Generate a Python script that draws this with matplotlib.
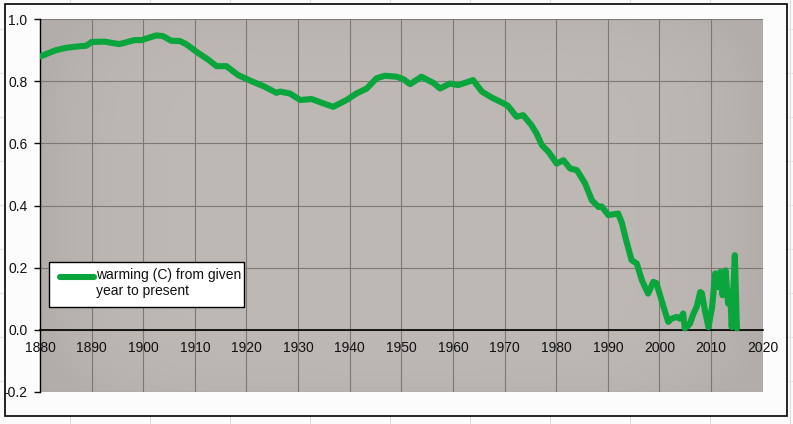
import matplotlib
matplotlib.use("Agg")
import matplotlib.pyplot as plt
import numpy as np
from matplotlib.patches import Rectangle
from matplotlib.lines import Line2D

plt.rcParams['font.family'] = ['Liberation Sans', 'DejaVu Sans']

years = [1880.0, 1881.5, 1883.0, 1885.0, 1887.0, 1889.0, 1890.0, 1892.5, 1895.4, 1898.3,
         1899.6, 1901.0, 1902.5, 1903.8, 1905.4, 1907.1, 1908.3, 1910.6, 1912.5, 1914.2,
         1916.1, 1918.4, 1920.9, 1923.5, 1925.8, 1926.5, 1928.4, 1930.4, 1932.6, 1934.9,
         1936.8, 1939.4, 1941.3, 1943.3, 1945.2, 1946.8, 1949.1, 1950.4, 1951.7, 1953.9,
         1956.2, 1957.5, 1959.4, 1961.0, 1962.3, 1963.9, 1965.6, 1967.5, 1969.8, 1970.6,
         1972.3, 1973.6, 1975.2, 1976.2, 1977.2, 1978.5, 1980.1, 1981.4, 1982.7, 1984.0,
         1985.6, 1986.9, 1988.2, 1988.8, 1990.1, 1992.0, 1992.7, 1993.6, 1994.6, 1995.6,
         1996.6, 1997.8, 1998.8, 1999.4, 2000.4, 2001.0, 2001.7, 2002.3, 2003.3, 2004.0,
         2004.6, 2004.9, 2005.4, 2005.9, 2006.6, 2007.2, 2007.9, 2008.2, 2008.8, 2009.5,
         2010.2, 2010.8, 2011.3, 2011.8, 2012.2, 2012.8, 2013.3, 2013.7, 2014.0, 2014.6,
         2015.0]
warming = [0.880, 0.890, 0.900, 0.908, 0.912, 0.915, 0.927, 0.928, 0.920, 0.933,
           0.933, 0.940, 0.948, 0.946, 0.931, 0.930, 0.920, 0.892, 0.871, 0.849,
           0.849, 0.820, 0.801, 0.783, 0.763, 0.767, 0.761, 0.740, 0.743, 0.729,
           0.718, 0.740, 0.761, 0.777, 0.810, 0.818, 0.815, 0.807, 0.791, 0.815,
           0.795, 0.777, 0.793, 0.788, 0.795, 0.804, 0.767, 0.748, 0.729, 0.722,
           0.686, 0.691, 0.659, 0.632, 0.595, 0.573, 0.535, 0.546, 0.519, 0.514,
           0.471, 0.417, 0.395, 0.397, 0.369, 0.374, 0.345, 0.285, 0.224, 0.213,
           0.159, 0.116, 0.154, 0.150, 0.095, 0.062, 0.025, 0.035, 0.041, 0.035,
           0.052, 0.004, 0.010, 0.019, 0.052, 0.073, 0.121, 0.118, 0.062, 0.008,
           0.073, 0.181, 0.137, 0.186, 0.111, 0.191, 0.084, 0.120, 0.008, 0.240,
           0.004]
x_ticks = [1880, 1890, 1900, 1910, 1920, 1930, 1940, 1950, 1960, 1970, 1980, 1990, 2000, 2010, 2020]
y_ticks = [-0.2, 0.0, 0.2, 0.4, 0.6, 0.8, 1.0]
legend_label = "warming (C) from given\nyear to present"

LINE_COLOR = '#0aa53c'
W, H = 793, 424
fig = plt.figure(figsize=(W / 100, H / 100), dpi=100)
fig.patch.set_facecolor('#fbfbfb')

# spreadsheet cell lines outside the chart
for xc in range(70, 800, 80):
    fig.add_artist(Line2D([xc / W, xc / W], [0, 1], color='#dcdcdc', lw=0.8, zorder=0))
for yc in [29, 73, 117, 161, 205, 249, 293, 337, 381]:
    fig.add_artist(Line2D([0, 1], [1 - yc / H, 1 - yc / H], color='#e4e4e4', lw=0.8, zorder=0))
# chart area (white) with black border
fig.add_artist(Rectangle((5 / W, 1 - 416 / H), (787 - 5) / W, (416 - 4) / H,
                         transform=fig.transFigure, facecolor='#fcfcfc',
                         edgecolor='black', lw=1.2, zorder=0.5))

left, right, top, bottom = 40, 762.7, 19.3, 391.7
ax = fig.add_axes([left / W, 1 - bottom / H, (right - left) / W, (bottom - top) / H])
ax.set_zorder(1)
ax.set_xlim(1880, 2020)
ax.set_ylim(-0.2, 1.0)

# plot area background with slight gradient toward edges
gx = np.linspace(-1, 1, 300)
gy = np.linspace(-1, 1, 150)
GX, GY = np.meshgrid(gx, gy)
shade = 1 - 0.06 * np.clip(np.abs(GX) ** 6 + 0.5 * np.abs(GY) ** 6, 0, 1)
base = np.array([0.745, 0.725, 0.710])
img = shade[..., None] * base
ax.imshow(img, extent=[1880, 2020, -0.2, 1.0], aspect='auto', zorder=0, interpolation='bilinear')

ax.set_xticks(x_ticks)
ax.set_yticks(y_ticks)
ax.set_yticklabels([f"{v:.1f}" for v in y_ticks])
ax.grid(True, color='#7d7874', lw=0.8, zorder=1)
ax.set_axisbelow(True)

ax.plot(years, warming, color=LINE_COLOR, lw=4.4, solid_joinstyle='round',
        solid_capstyle='round', zorder=3)

for s in ['top', 'right']:
    ax.spines[s].set_visible(False)
ax.spines['left'].set_color('black')
ax.spines['left'].set_linewidth(1.0)
ax.spines['bottom'].set_position(('data', 0))
ax.spines['bottom'].set_color('black')
ax.spines['bottom'].set_linewidth(1.2)
ax.spines['bottom'].set_zorder(2.5)

ax.tick_params(axis='y', direction='out', length=4, width=1, pad=5, labelsize=10, colors='#111111')
ax.tick_params(axis='x', length=0, pad=8, labelsize=10, colors='#111111')

# legend box (drawn to match the spreadsheet legend layout)
def px_to_ax(px, py):
    return (px - left) / (right - left), (bottom - py) / (bottom - top)

bx0, by0 = px_to_ax(49, 307)
bx1, by1 = px_to_ax(244, 262)
ax.add_patch(Rectangle((bx0, by0), bx1 - bx0, by1 - by0, transform=ax.transAxes,
                       facecolor='white', edgecolor='black', lw=1.0, zorder=5))
hx0, hy = px_to_ax(60, 276.5)
hx1, _ = px_to_ax(94, 276.5)
ax.add_line(Line2D([hx0, hx1], [hy, hy], transform=ax.transAxes, color=LINE_COLOR,
                   lw=4.4, solid_capstyle='round', zorder=6))
tx, ty = px_to_ax(96, 268)
ax.text(tx, ty, legend_label, transform=ax.transAxes, ha='left', va='top',
        fontsize=10, linespacing=1.15, color='#111111', zorder=6)

fig.savefig('out.png', dpi=100, facecolor=fig.get_facecolor())
